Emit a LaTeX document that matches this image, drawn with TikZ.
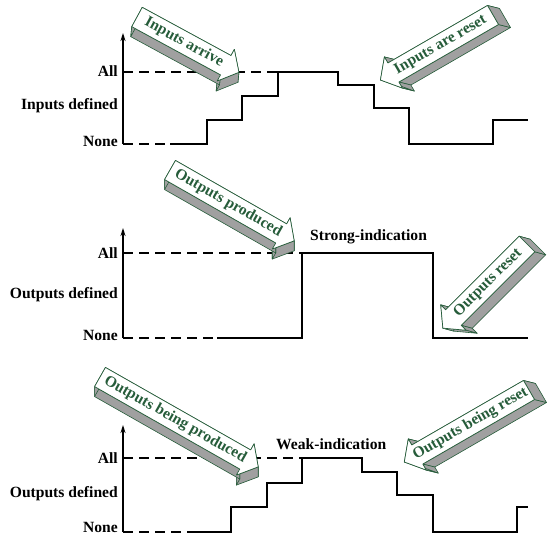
\documentclass[tikz,border=0pt]{standalone}
\usepackage{fontspec}
\setmainfont{Liberation Serif}
\usetikzlibrary{arrows.meta}

\definecolor{arrowgreen}{RGB}{38,92,58}
\definecolor{arrowgray}{RGB}{160,160,160}

% 3-D block arrow: #1 tail centre, #2 angle, #3 length, #4 depth, #5 text angle, #6 text
\newcommand{\blockarrow}[6]{%
  \begin{scope}[shift={(#4)}]
    \begin{scope}[shift={(#1)},rotate=#2]
      \coordinate (b1) at (0,-11);
      \coordinate (b2) at (#3-15,-11);
      \coordinate (b3) at (#3-15,-18);
      \coordinate (b4) at (#3,0);
      \coordinate (b5) at (#3-15,18);
      \coordinate (b6) at (#3-15,11);
      \coordinate (b7) at (0,11);
    \end{scope}
  \end{scope}
  \begin{scope}[shift={(#1)},rotate=#2]
    \coordinate (f1) at (0,-11);
    \coordinate (f2) at (#3-15,-11);
    \coordinate (f3) at (#3-15,-18);
    \coordinate (f4) at (#3,0);
    \coordinate (f5) at (#3-15,18);
    \coordinate (f6) at (#3-15,11);
    \coordinate (f7) at (0,11);
    \coordinate (fmid) at ({(#3-15)/2+3},0);
  \end{scope}
  \foreach \i/\j in {1/2,2/3,3/4,4/5,5/6,6/7,7/1}
    \filldraw[arrowside] (f\i) -- (f\j) -- (b\j) -- (b\i) -- cycle;
  \filldraw[arrowface] (f1) -- (f2) -- (f3) -- (f4) -- (f5) -- (f6) -- (f7) -- cycle;
  \node[arrowtext,rotate=#5] at (fmid) {#6};
}

\begin{document}
\begin{tikzpicture}[x=1pt,y=-1pt,
  level/.style={font=\fontsize{15.6}{16}\selectfont\bfseries,anchor=base east,inner sep=0},
  note/.style={font=\fontsize{15.6}{16}\selectfont\bfseries,anchor=base west,inner sep=0},
  wave/.style={line width=1.2pt},
  guide/.style={line width=1.2pt,dash pattern=on 10pt off 6pt},
  axis/.style={line width=1.2pt,-{Stealth[length=8pt,width=5pt]}},
  arrowside/.style={fill=arrowgray,draw=arrowgreen,line width=0.6pt,line join=round},
  arrowface/.style={fill=white,draw=arrowgreen,line width=0.7pt,line join=round},
  arrowtext/.style={text=arrowgreen,font=\fontsize{15.5}{15.5}\selectfont\bfseries,inner sep=0}]
  \useasboundingbox (0,0) rectangle (547,539);

  % inputs
  \draw[axis] (123,144) -- (123,33);
  \draw[guide] (123,144) -- (170,144);
  \draw[guide] (123,72) -- (278,72);
  \draw[wave] (170,144) -- (207,144) -- (207,120) -- (242,120) -- (242,96) -- (278,96)
    -- (278,72) -- (338,72) -- (338,85) -- (374,85) -- (374,108) -- (409,108)
    -- (409,144) -- (493,144) -- (493,120) -- (528,120);
  \node[level] (inall) at (118,76.5) {All};
  \node[level] (indef) at (118,109) {Inputs defined};
  \node[level] (innone) at (118,146) {None};
  \blockarrow{137,17}{-28.5}{116}{-1,10}{-28.5}{Inputs arrive}
  \blockarrow{493,15}{210}{130}{12,3}{30}{Inputs are reset}

  % strong indication
  \draw[axis] (123,338) -- (123,228);
  \draw[guide] (123,338) -- (217,338);
  \draw[guide] (123,253) -- (302,253);
  \draw[wave] (217,338) -- (302,338) -- (302,253) -- (433,253) -- (433,338) -- (528,338);
  \node[level] (strall) at (118,258) {All};
  \node[level] (strdef) at (118,298) {Outputs defined};
  \node[level] (strnone) at (118,340) {None};
  \node[note] (strong) at (310,240) {Strong-indication};
  \blockarrow{170,170}{-29.7}{143}{0,10}{-29.7}{Outputs produced}
  \blockarrow{527,244}{225}{119}{11,3}{45}{Outputs reset}

  % weak indication
  \draw[axis] (123,532) -- (123,425);
  \draw[guide] (123,532) -- (197,532);
  \draw[guide] (123,458) -- (302,458);
  \draw[wave] (197,532) -- (231,532) -- (231,507) -- (267,507) -- (267,483) -- (302,483)
    -- (302,458) -- (362,458) -- (362,472) -- (397,472) -- (397,495) -- (433,495)
    -- (433,532) -- (517,532) -- (517,507) -- (528,507);
  \node[level] (wkall) at (118,463) {All};
  \node[level] (wkdef) at (118,497.5) {Outputs defined};
  \node[level] (wknone) at (118,532.5) {None};
  \node[note] (weak) at (276,449) {Weak-indication};
  \blockarrow{100,377}{-29.6}{182}{0,10}{-29.6}{Outputs being produced}
  \blockarrow{529,390}{210}{144}{12,3}{30}{Outputs being reset}
\end{tikzpicture}
\end{document}
